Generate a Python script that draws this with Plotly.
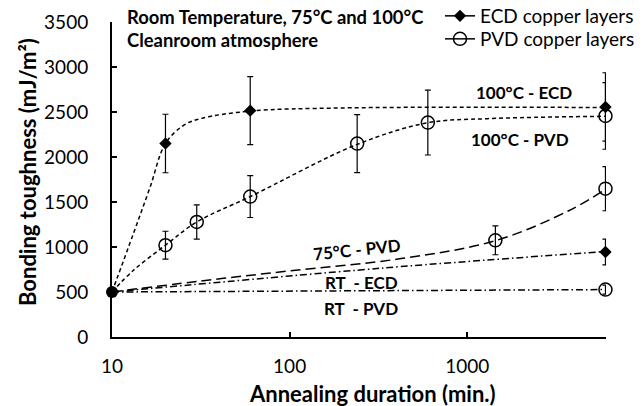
import math
import plotly.graph_objects as go

# ---------------- data ----------------
start_t = [10]
start_y = [500]

# measured points (ECD)
ecd_t = [20, 60, 6000, 6000]
ecd_y = [2150, 2515, 2556, 944]
ecd_err = [325, 377, 380, 143]

# measured points (PVD)
pvd_t = [20, 30, 60, 240, 600, 6000, 1440, 6000, 6000]
pvd_y = [1020, 1278, 1560, 2149, 2382, 2456, 1074, 1648, 527]
pvd_err = [155, 190, 232, 322, 360, 370, 160, 245, 50]

# trend curves
tr_ecd100_t = [10, 13.2, 16.4, 20, 25.3, 31.4, 60, 200, 6000]
tr_ecd100_y = [500, 1149, 1667, 2150, 2352, 2426, 2510, 2545, 2550]

tr_pvd100_t = [10, 13.2, 20, 30, 60, 240, 600, 1300, 6000]
tr_pvd100_y = [500, 741, 1020, 1278, 1560, 2140, 2380, 2426, 2452]

tr_pvd75_t = [10, 31, 100, 424, 1440, 3700, 6000]
tr_pvd75_y = [500, 620, 735, 871, 1070, 1400, 1640]

tr_ecdrt_t = [10, 330, 6000]
tr_ecdrt_y = [500, 765, 950]

tr_pvdrt_t = [10, 6000]
tr_pvdrt_y = [500, 527]

x_ticks = [10, 100, 1000]
y_ticks = [0, 500, 1000, 1500, 2000, 2500, 3000, 3500]

FONT = "Lato"
BLACK = "black"

fig = go.Figure()

def trend(t, y, dash, shape="spline"):
    fig.add_trace(go.Scatter(
        x=t, y=y, mode="lines", showlegend=False, hoverinfo="skip",
        line=dict(color=BLACK, width=1.5, dash=dash, shape=shape),
        cliponaxis=False))

trend(tr_ecd100_t, tr_ecd100_y, "4px,3px")
trend(tr_pvd100_t, tr_pvd100_y, "4px,3px")
trend(tr_pvd75_t, tr_pvd75_y, "10px,5px")
trend(tr_ecdrt_t, tr_ecdrt_y, "7px,3px,1.5px,3px")
trend(tr_pvdrt_t, tr_pvdrt_y, "7px,3px,1.5px,3px", shape="linear")

err_style = dict(type="data", visible=True, color=BLACK, thickness=1.2, width=3)

fig.add_trace(go.Scatter(
    x=pvd_t, y=pvd_y, mode="markers", showlegend=False,
    error_y=dict(array=pvd_err, **err_style),
    marker=dict(symbol="circle-open", size=13, color=BLACK, line=dict(width=1.5, color=BLACK)),
    cliponaxis=False))

fig.add_trace(go.Scatter(
    x=ecd_t, y=ecd_y, mode="markers", showlegend=False,
    error_y=dict(array=ecd_err, **err_style),
    marker=dict(symbol="diamond", size=9.5, color=BLACK),
    cliponaxis=False))

fig.add_trace(go.Scatter(
    x=start_t, y=start_y, mode="markers", showlegend=False,
    marker=dict(symbol="circle", size=12, color=BLACK),
    cliponaxis=False))

# legend entries
fig.add_trace(go.Scatter(
    x=[None], y=[None], mode="lines+markers", name="ECD copper layers",
    line=dict(color=BLACK, width=1.5),
    marker=dict(symbol="diamond", size=9.5, color=BLACK), legend="legend"))
fig.add_trace(go.Scatter(
    x=[None], y=[None], mode="lines+markers", name="PVD copper layers",
    line=dict(color=BLACK, width=1.5),
    marker=dict(symbol="circle-open", size=13, color=BLACK, line=dict(width=1.5, color=BLACK)),
    legend="legend2"))

W, H = 644, 406
L, R, T, B = 112, 38, 22, 69
pw, ph = W - L - R, H - T - B

def px(x):
    return (x - L) / pw

def py(y):
    return (H - B - y) / ph

ann = []
def label(text, x, y, size=17, anchor="center", angle=0, bold=True):
    ann.append(dict(
        text=f"<b>{text}</b>" if bold else text, x=px(x), y=py(y), xref="paper", yref="paper",
        xanchor=anchor, yanchor="middle", showarrow=False, textangle=angle,
        font=dict(family=FONT, size=size, color=BLACK)))

label("Room Temperature, 75°C and 100°C", 125, 17, size=18.4, anchor="left")
label("Cleanroom atmosphere", 125, 40, size=18.4, anchor="left")
label("100°C - ECD", 524, 92, size=17)
label("100°C - PVD", 520, 139, size=17)
label("75°C - PVD", 357, 249, size=17, angle=-6)
label("RT  - ECD", 361, 282, size=17)
label("RT  - PVD", 361, 308, size=17)
label("Annealing duration (min.)", 372, 393, size=22)
label("Bonding toughness (mJ/m²)", 27, 172, size=22, angle=-90)

legend_common = dict(
    font=dict(family=FONT, size=19, color=BLACK),
    bgcolor="rgba(0,0,0,0)", xanchor="left", yanchor="middle",
    itemwidth=30, tracegroupgap=0)

fig.update_layout(
    width=W, height=H,
    margin=dict(l=L, r=R, t=T, b=B, autoexpand=False),
    paper_bgcolor="white", plot_bgcolor="white",
    font=dict(family=FONT, color=BLACK),
    annotations=ann,
    legend=dict(x=px(440), y=py(16), **legend_common),
    legend2=dict(x=px(440), y=py(39), **legend_common),
    xaxis=dict(
        type="log", range=[1, math.log10(6000) + 0.003],
        tickvals=x_ticks, ticktext=[str(v) for v in x_ticks],
        ticks="inside", ticklen=5, tickwidth=1.5, tickcolor=BLACK,
        showline=True, linecolor=BLACK, linewidth=2,
        showgrid=False, zeroline=False,
        tickfont=dict(family=FONT, size=19, color=BLACK),
        ticklabelstandoff=11),
    yaxis=dict(
        range=[0, 3500], tickvals=y_ticks,
        ticks="inside", ticklen=5, tickwidth=1.5, tickcolor=BLACK,
        showline=True, linecolor=BLACK, linewidth=2,
        showgrid=False, zeroline=False,
        tickfont=dict(family=FONT, size=19, color=BLACK),
        ticklabelstandoff=18),
)

fig.write_html("out.html")
